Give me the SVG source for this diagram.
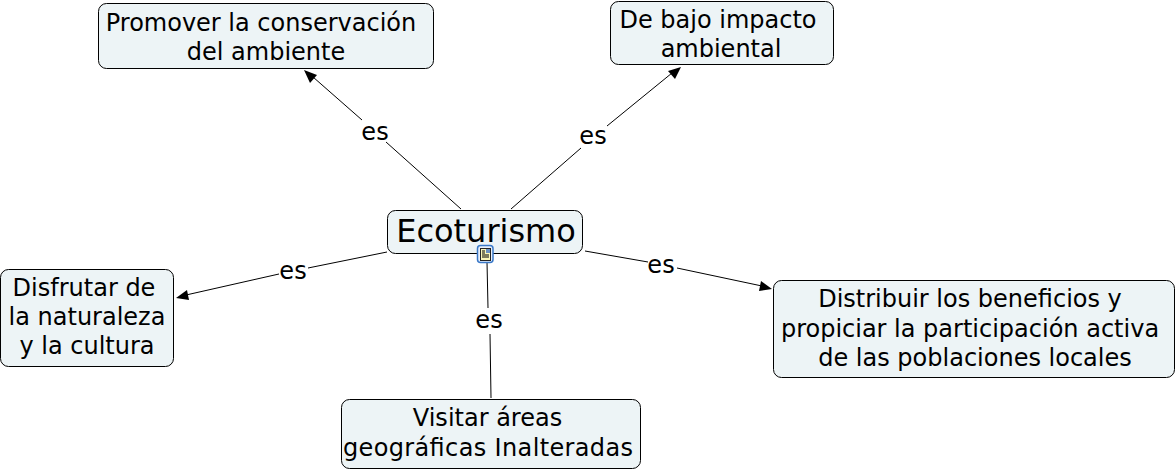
<svg xmlns="http://www.w3.org/2000/svg" width="1176" height="471" viewBox="0 0 1176 471">
<defs>
<style>
.n{fill:#edf4f6;stroke:#000;stroke-width:1}
.t{font-family:"DejaVu Sans",Verdana,sans-serif;font-size:24px;fill:#000;text-anchor:middle}
.l{font-family:"DejaVu Sans",Verdana,sans-serif;font-size:24px;fill:#000;text-anchor:middle}
.c{stroke:#000;stroke-width:1;fill:none}
.a{fill:#000;stroke:none}
</style>
</defs>
<rect width="1176" height="471" fill="#fff"/>
<g id="connectors">
<path class="c" d="M461 209L386 142M362 120L313 77"/><polygon class="a" points="304,70 317,75 310,83"/>
<path class="c" d="M511 209L581 148M607 126L672 73"/><polygon class="a" points="681,67 675,79 668,71"/>
<path class="c" d="M387 252L308 268M279 274L186 295"/><polygon class="a" points="176,298 187,290 189,300"/>
<path class="c" d="M585 251L648 262M677 268L762 286"/><polygon class="a" points="772,289 759,291 761,281"/>
<path class="c" d="M487 262L488 308M490 334L491 398"/>
<text class="l" x="375" y="140">es</text>
<text class="l" x="593" y="144">es</text>
<text class="l" x="293" y="279">es</text>
<text class="l" x="661" y="273">es</text>
<text class="l" x="489" y="328">es</text>
</g>
<g id="n-center"><rect class="n" x="387.500" y="210.500" width="195" height="43" rx="8"/><text class="t" x="486" y="242" style="font-size:32px">Ecoturismo</text>
<g id="icon"><rect x="477.500" y="245.500" width="15.500" height="17" rx="3" fill="#e8f0fb" stroke="#3a78c8" stroke-width="1.500"/><rect x="480.500" y="248.500" width="10" height="12" fill="#fbf6b8" stroke="#222" stroke-width="1"/><path d="M482 251h3M482 253h3M482 255h7M482 257h7" stroke="#000" stroke-width="1"/><rect x="486" y="249" width="4" height="4" fill="#6a8fc0"/></g></g>
<g id="n-promover"><rect class="n" x="98.500" y="3.500" width="335" height="65" rx="8"/><text class="t" x="261" y="31">Promover la conservación</text><text class="t" x="266" y="60">del ambiente</text></g>
<g id="n-impacto"><rect class="n" x="610.500" y="1.500" width="223" height="63" rx="8"/><text class="t" x="718" y="28">De bajo impacto</text><text class="t" x="721" y="57">ambiental</text></g>
<g id="n-disfrutar"><rect class="n" x="0.500" y="269.500" width="173" height="97" rx="8"/><text class="t" x="84" y="296">Disfrutar de</text><text class="t" x="87" y="325">la naturaleza</text><text class="t" x="87" y="354">y la cultura</text></g>
<g id="n-distribuir"><rect class="n" x="773.500" y="280.500" width="401" height="97" rx="8"/><text class="t" x="970" y="307">Distribuir los beneficios y</text><text class="t" x="970" y="337">propiciar la participación activa</text><text class="t" x="975" y="366">de las poblaciones locales</text></g>
<g id="n-visitar"><rect class="n" x="341.500" y="399.500" width="299" height="69" rx="8"/><text class="t" x="487.500" y="426">Visitar áreas</text><text class="t" x="488" y="456" textLength="290">geográficas Inalteradas</text></g>
</svg>
